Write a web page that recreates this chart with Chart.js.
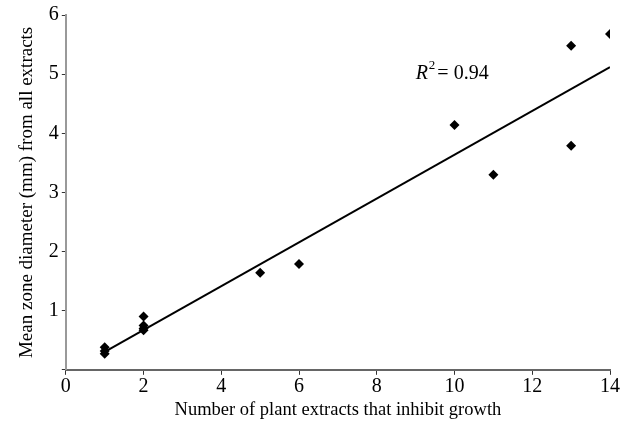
<!DOCTYPE html>
<html>
<head>
<meta charset="utf-8">
<script src="https://cdn.jsdelivr.net/npm/chart.js@4.4.1/dist/chart.umd.min.js"></script>
<style>
  html, body { margin: 0; padding: 0; background: #fff; }
  #wrap { width: 627px; height: 432px; }
</style>
</head>
<body>
<div id="wrap"><canvas id="c"></canvas></div>
<script>
// Data
const xValues = [1, 1, 1, 2, 2, 2, 2, 5, 6, 10, 11, 13, 13, 14];
const yValues = [0.38, 0.32, 0.27, 0.90, 0.75, 0.70, 0.67, 1.64, 1.79, 4.14, 3.30, 5.48, 3.79, 5.68];
const xTicks = [0, 2, 4, 6, 8, 10, 12, 14];
const yTicks = [0, 1, 2, 3, 4, 5, 6];
const rSquaredLabel = "0.94";
const xTitle = "Number of plant extracts that inhibit growth";
const yTitle = "Mean zone diameter (mm) from all extracts";

const points = xValues.map((x, i) => ({ x: x, y: yValues[i] }));

// least-squares trend line
const n = xValues.length;
const mx = xValues.reduce((a, b) => a + b, 0) / n;
const my = yValues.reduce((a, b) => a + b, 0) / n;
let sxx = 0, sxy = 0;
for (let i = 0; i < n; i++) { sxx += (xValues[i] - mx) ** 2; sxy += (xValues[i] - mx) * (yValues[i] - my); }
const slope = sxy / sxx, intercept = my - slope * mx;
const xMin = Math.min(...xValues), xMax = Math.max(...xValues);
const trend = [{ x: xMin, y: intercept + slope * xMin }, { x: xMax, y: intercept + slope * xMax }];

const FONT = "'Liberation Serif', 'DejaVu Serif', serif";

const r2Plugin = {
  id: 'r2',
  afterDatasetsDraw(chart) {
    const ctx = chart.ctx;
    const xs = chart.scales.x, ys = chart.scales.y;
    const px = xs.getPixelForValue(9.0);
    const py = ys.getPixelForValue(4.92);
    ctx.save();
    ctx.fillStyle = '#000';
    ctx.textBaseline = 'alphabetic';
    ctx.textAlign = 'left';
    ctx.font = "italic 20px " + FONT;
    ctx.fillText('R', px, py);
    let w = ctx.measureText('R').width;
    ctx.font = "13px " + FONT;
    ctx.fillText('2', px + w + 1, py - 10);
    let w2 = ctx.measureText('2').width;
    ctx.font = "20px " + FONT;
    ctx.fillText('= ' + rSquaredLabel, px + w + w2 + 3, py);
    ctx.restore();
  }
};

new Chart(document.getElementById('c'), {
  type: 'scatter',
  data: {
    datasets: [
      {
        label: 'data',
        data: points,
        pointStyle: 'rectRot',
        pointRadius: 5,
        pointHoverRadius: 5,
        backgroundColor: '#000',
        borderColor: '#000',
        borderWidth: 0
      },
      {
        label: 'trend',
        type: 'line',
        data: trend,
        borderColor: '#000',
        borderWidth: 2,
        pointRadius: 0,
        fill: false
      }
    ]
  },
  options: {
    responsive: true,
    maintainAspectRatio: false,
    animation: false,
    layout: { padding: { top: 7, right: 17, left: 12, bottom: 7 } },
    plugins: { legend: { display: false }, tooltip: { enabled: false } },
    scales: {
      x: {
        type: 'linear',
        min: 0, max: 14,
        afterBuildTicks(axis) { axis.ticks = xTicks.map(v => ({ value: v })); },
        border: { color: '#666', width: 2 },
        grid: { drawOnChartArea: false, drawTicks: true, tickLength: 5, color: '#333', lineWidth: 1 },
        ticks: { color: '#000', font: { family: FONT, size: 20 }, padding: 0 },
        title: { display: true, text: xTitle, color: '#000', font: { family: FONT, size: 18.5 }, padding: { top: 0, bottom: 4 } }
      },
      y: {
        type: 'linear',
        min: 0, max: 6,
        afterBuildTicks(axis) { axis.ticks = yTicks.map(v => ({ value: v })); },
        border: { color: '#999', width: 2 },
        grid: { drawOnChartArea: false, drawTicks: true, tickLength: 4, color: '#333', lineWidth: 1 },
        ticks: { color: '#000', font: { family: FONT, size: 20 }, padding: 3,
                 callback: (v) => v === 0 ? '' : String(v) },
        title: { display: true, text: yTitle, color: '#000', font: { family: FONT, size: 19 }, padding: { bottom: 7 } }
      }
    }
  },
  plugins: [r2Plugin]
});
</script>
</body>
</html>
